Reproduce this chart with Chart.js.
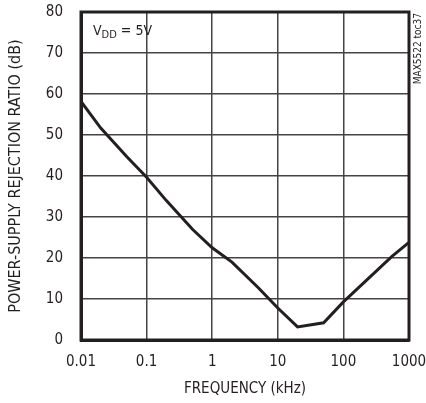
<!DOCTYPE html>
<html>
<head>
<meta charset="utf-8">
<script src="https://cdn.jsdelivr.net/npm/chart.js@4"></script>
<style>
  html, body { margin: 0; padding: 0; background: #fff; }
  #wrap { width: 426px; height: 403px; position: relative; }
</style>
</head>
<body>
<div id="wrap"><canvas id="psrrChart"></canvas></div>
<script>
// Dane
const freqKHz = [0.01, 0.02, 0.05, 0.1, 0.2, 0.5, 1, 2, 5, 10, 20, 50, 100, 200, 550, 1000];
const psrrDb = [58.2, 51.7, 44.7, 39.7, 34, 27, 22.5, 19, 12.8, 7.8, 3.2, 4.2, 9.3, 13.8, 20.4, 23.8];
const xTickValues = [0.01, 0.1, 1, 10, 100, 1000];
const xTickLabels = ['0.01', '0.1', '1', '10', '100', '1000'];

const FONT = "'DejaVu Sans Condensed', 'Liberation Sans Narrow', sans-serif";
const INK = '#231f20';

// Ramka, opis VDD i numer rysunku
const extras = {
    id: 'extras',
    afterDraw(chart) {
        const { ctx, chartArea: a } = chart;
        ctx.save();
        ctx.strokeStyle = INK;
        ctx.lineWidth = 3;
        ctx.strokeRect(a.left, a.top, a.right - a.left, a.bottom - a.top);

        ctx.fillStyle = INK;
        ctx.textBaseline = 'alphabetic';
        ctx.textAlign = 'left';
        ctx.font = '14px ' + FONT;
        let x = 93;
        ctx.fillText('V', x, 35);
        x += ctx.measureText('V').width;
        ctx.font = '11px ' + FONT;
        ctx.fillText('DD', x, 38);
        x += ctx.measureText('DD').width;
        ctx.font = '14px ' + FONT;
        ctx.fillText(' = 5V', x, 35);

        ctx.translate(421, 13);
        ctx.rotate(-Math.PI / 2);
        ctx.font = '10px ' + FONT;
        ctx.textAlign = 'right';
        ctx.fillText('MAX5522 toc37', 0, 0);
        ctx.restore();
    }
};

new Chart(document.getElementById('psrrChart'), {
    type: 'line',
    data: {
        datasets: [{
            data: freqKHz.map((f, i) => ({ x: f, y: psrrDb[i] })),
            borderColor: INK,
            borderWidth: 3,
            pointRadius: 0,
            tension: 0,
            fill: false
        }]
    },
    options: {
        responsive: true,
        maintainAspectRatio: false,
        animation: false,
        layout: { padding: { top: 12, right: 17, left: 0, bottom: 0 } },
        plugins: { legend: { display: false }, tooltip: { enabled: false } },
        scales: {
            x: {
                type: 'logarithmic',
                min: 0.01,
                max: 1000,
                afterBuildTicks: scale => {
                    scale.ticks = xTickValues.map(v => ({ value: v }));
                },
                afterFit: scale => {
                    scale.height = 63;
                    scale.paddingLeft = 0;
                    scale.paddingRight = 0;
                },
                ticks: {
                    callback: (v, i) => xTickLabels[i],
                    color: INK,
                    font: { family: FONT, size: 15 },
                    padding: 13,
                    maxRotation: 0,
                    autoSkip: false
                },
                grid: { color: '#444', lineWidth: 1.5, drawTicks: false },
                border: { color: INK, width: 3 },
                title: {
                    display: true,
                    text: 'FREQUENCY (kHz)',
                    color: INK,
                    font: { family: FONT, size: 15 },
                    padding: { top: 0, bottom: 5 }
                }
            },
            y: {
                min: 0,
                max: 80,
                afterFit: scale => {
                    scale.width = 81;
                    scale.paddingTop = 0;
                    scale.paddingBottom = 0;
                },
                ticks: {
                    stepSize: 10,
                    color: INK,
                    font: { family: FONT, size: 15 },
                    padding: 18
                },
                grid: { color: '#444', lineWidth: 1.5, drawTicks: false },
                border: { color: INK, width: 3 },
                title: {
                    display: true,
                    text: 'POWER-SUPPLY REJECTION RATIO (dB)',
                    color: INK,
                    font: { family: FONT, size: 16 },
                    padding: { top: 6, bottom: 0 }
                }
            }
        }
    },
    plugins: [extras]
});
</script>
</body>
</html>
